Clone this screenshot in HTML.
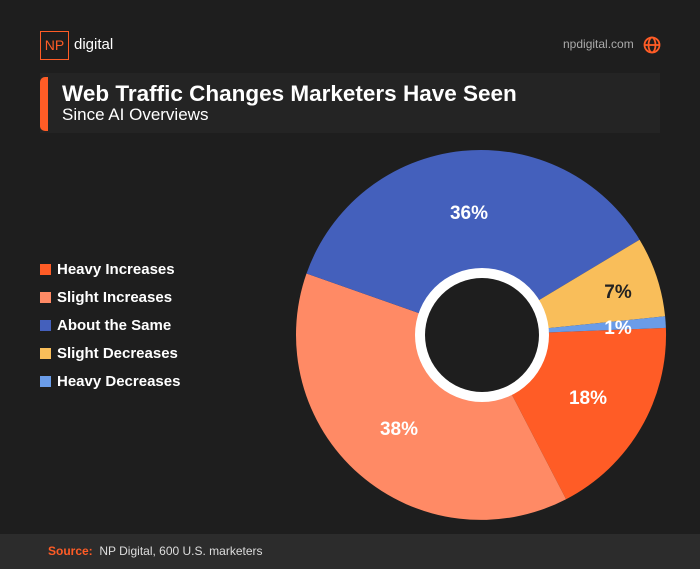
<!DOCTYPE html>
<html><head><meta charset="utf-8"><style>
body{margin:0;width:700px;height:569px;background:#1e1e1e;font-family:"Liberation Sans",sans-serif;position:relative;overflow:hidden;color:#fff}
.a{position:absolute}
.leg{position:absolute;left:40px;font-size:15px;font-weight:bold;color:#fff}
.leg span{display:inline-block;width:11px;height:11px;margin-right:6px;vertical-align:-1px}
</style></head><body>
<div class="a" style="left:40px;top:31px;width:27px;height:27px;border:1.5px solid #ff5c26;color:#ff5c26;font-size:14px;line-height:27px;text-align:center">NP</div>
<div class="a" style="left:74px;top:36px;font-size:15px;color:#fff">digital</div>
<div class="a" style="left:563px;top:37px;font-size:12px;color:#aaa">npdigital.com</div>
<svg class="a" style="left:643px;top:36px" width="18" height="18" viewBox="0 0 18 18" fill="none" stroke="#ff5c26" stroke-width="1.8"><circle cx="9" cy="9" r="7.5"/><ellipse cx="9" cy="9" rx="3.5" ry="7.5"/><line x1="1.5" y1="9" x2="16.5" y2="9"/></svg>
<div class="a" style="left:40px;top:73px;width:620px;height:60px;background:#242424"></div>
<div class="a" style="left:40px;top:77px;width:8px;height:54px;background:#ff5c26;border-radius:5px 0 0 5px"></div>
<div class="a" style="left:62px;top:80px;font-size:22.5px;font-weight:bold;line-height:28px">Web Traffic Changes Marketers Have Seen</div>
<div class="a" style="left:62px;top:105px;font-size:17px;line-height:20px">Since AI Overviews</div>
<div class="leg" style="top:261px"><span style="background:#ff5c26"></span>Heavy Increases</div>
<div class="leg" style="top:289px"><span style="background:#ff8a65"></span>Slight Increases</div>
<div class="leg" style="top:317px"><span style="background:#4460bc"></span>About the Same</div>
<div class="leg" style="top:345px"><span style="background:#f9be5a"></span>Slight Decreases</div>
<div class="leg" style="top:373px"><span style="background:#6a9ce8"></span>Heavy Decreases</div>
<svg class="a" style="left:0;top:0" width="700" height="569">
<path d="M481 335L665.9 327.9A185 185 0 0 1 566.1 499.2Z" fill="#ff5c26"/>
<path d="M481 335L566.1 499.2A185 185 0 0 1 306.5 273.5Z" fill="#ff8a65"/>
<path d="M481 335L306.5 273.5A185 185 0 0 1 639.6 239.7Z" fill="#4460bc"/>
<path d="M481 335L639.6 239.7A185 185 0 0 1 665.1 316.3Z" fill="#f9be5a"/>
<path d="M481 335L665.1 316.3A185 185 0 0 1 665.9 327.9Z" fill="#6a9ce8"/>
<circle cx="482" cy="335" r="67" fill="#fff"/>
<circle cx="482" cy="335" r="57" fill="#1e1e1e"/>
<g font-family="Liberation Sans" font-weight="bold" font-size="19" text-anchor="middle" fill="#fff">
<text x="469" y="219">36%</text>
<text x="618" y="298" fill="#222">7%</text>
<text x="618" y="334">1%</text>
<text x="588" y="404">18%</text>
<text x="399" y="435">38%</text>
</g>
</svg>
<div class="a" style="left:0;top:534px;width:700px;height:35px;background:#2c2c2c"></div>
<div class="a" style="left:48px;top:544px;font-size:12px;color:#ddd"><b style="color:#ff5c26">Source:</b>&nbsp; NP Digital, 600 U.S. marketers</div>
</body></html>
